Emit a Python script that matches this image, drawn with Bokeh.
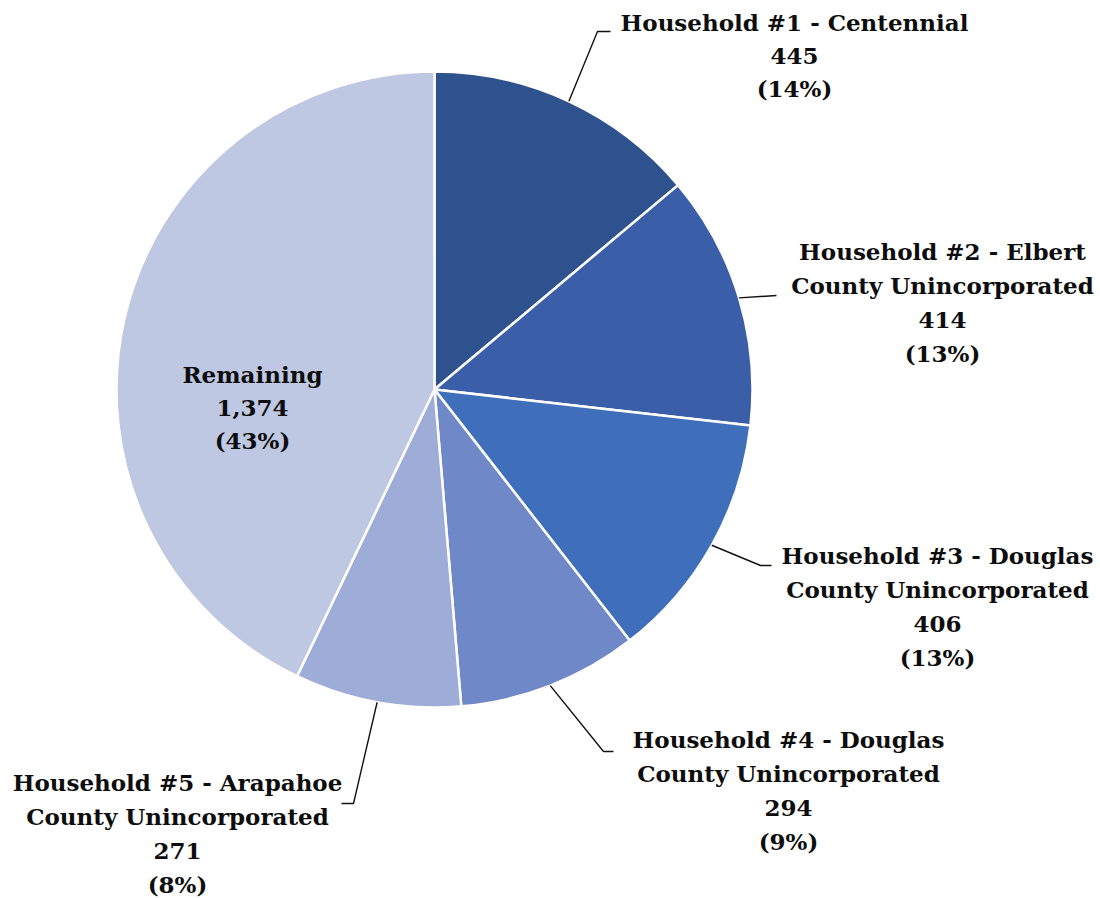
import math
from bokeh.plotting import figure
from bokeh.models import Range1d, ColumnDataSource
from bokeh.core.properties import value
from bokeh.embed import file_html
from bokeh.resources import INLINE

# ---- data ----
names = ["Household #1 - Centennial",
         "Household #2 - Elbert\nCounty Unincorporated",
         "Household #3 - Douglas\nCounty Unincorporated",
         "Household #4 - Douglas\nCounty Unincorporated",
         "Household #5 - Arapahoe\nCounty Unincorporated",
         "Remaining"]
counts = [445, 414, 406, 294, 271, 1374]
colors = ["#2E528D", "#3A5FA8", "#3F6EBB", "#6E88C8", "#9EADD8", "#BFC8E3"]

# ---- layout (page pixel coordinates) ----
W, H = 1100, 898
cx_pg, cy_pg, R = 434, 389, 318
label_xy = [(794, 22, 33), (942, 251, 34), (937, 555, 34),
            (788, 739, 34), (177, 782, 34), (252, 374, 33)]
leader_pts = [[(597, 31), (610, 31)],
              [(776, 295)],
              [(760, 565), (771, 565)],
              [(603, 751), (613, 751)],
              [(353, 803), (341, 803)],
              None]

def Y(y):
    return H - y

p = figure(width=W, height=H, output_backend="svg", toolbar_location=None,
           x_range=Range1d(0, W), y_range=Range1d(0, H), min_border=0)
p.axis.visible = False
p.grid.visible = False
p.outline_line_color = None
p.background_fill_color = "white"

total = sum(counts)
cum = 0
starts, ends, mids = [], [], []
for c in counts:
    a0 = math.pi / 2 - 2 * math.pi * cum / total
    cum += c
    a1 = math.pi / 2 - 2 * math.pi * cum / total
    starts.append(a0)
    ends.append(a1)
    mids.append((a0 + a1) / 2)

src = ColumnDataSource(dict(start=starts, end=ends, color=colors))
p.wedge(x=cx_pg, y=Y(cy_pg), radius=R, start_angle="start", end_angle="end",
        direction="clock", fill_color="color", line_color="white", line_width=2.5,
        source=src)

for i, pts in enumerate(leader_pts):
    if pts is None:
        continue
    sx = cx_pg + R * math.cos(mids[i])
    sy = cy_pg - R * math.sin(mids[i])
    xs = [sx] + [q[0] for q in pts]
    ys = [Y(sy)] + [Y(q[1]) for q in pts]
    p.line(xs, ys, line_color="#111111", line_width=1.4)

tx, ty, tt = [], [], []
for i, (name, c) in enumerate(zip(names, counts)):
    lines = name.split("\n") + ["{:,}".format(c), "({}%)".format(round(100 * c / total))]
    x0, y0, sp = label_xy[i]
    for k, ln in enumerate(lines):
        tx.append(x0)
        ty.append(Y(y0 + k * sp))
        tt.append(ln)

p.text(x=tx, y=ty, text=tt, text_align="center", text_baseline="middle",
       text_font=value("DejaVu Serif"), text_font_style="bold",
       text_font_size="23px", text_color="#0d0d0d")

open("out.html", "w").write(file_html(p, INLINE))
